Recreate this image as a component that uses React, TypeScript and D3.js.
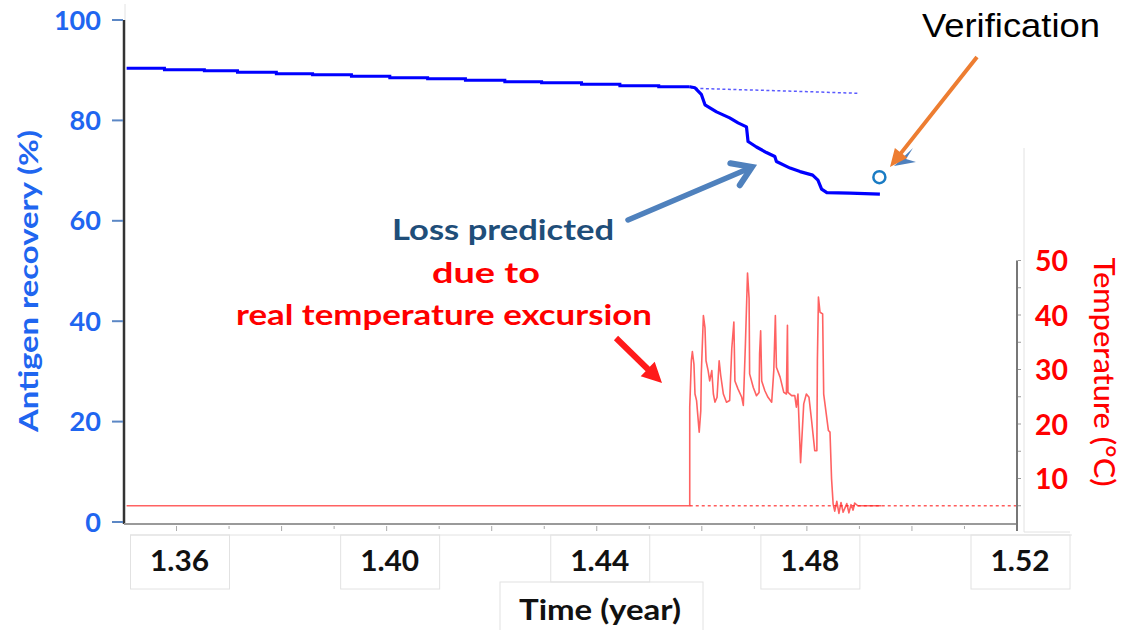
import React from "react";
import * as d3 from "d3";

// Antigen recovery: step-wise plateau (start time of each level, value in %)
const plateauTimes = [1.3505, 1.3577, 1.3653, 1.3716, 1.379, 1.3859, 1.3933, 1.4006, 1.4078, 1.415, 1.4225, 1.4295, 1.4371, 1.4444, 1.4518, 1.4577];
const plateauValues = [90.4, 90.1, 89.9, 89.6, 89.3, 89.1, 88.8, 88.5, 88.3, 88.0, 87.7, 87.5, 87.2, 86.9, 86.7, 86.7];

// Antigen recovery after the excursion starts
const declineTimes = [1.4577, 1.4587, 1.4599, 1.4606, 1.4628, 1.4653, 1.4669, 1.4685, 1.4688, 1.4704, 1.4723, 1.4739, 1.4742, 1.4768, 1.4787, 1.4811, 1.4821, 1.4828, 1.4838, 1.4882, 1.4939];
const declineValues = [86.7, 86.5, 85.2, 83.1, 81.7, 80.5, 79.5, 78.7, 75.8, 74.7, 73.6, 72.8, 71.8, 70.5, 69.8, 69.1, 68.1, 66.3, 65.6, 65.5, 65.3];

// Prediction had the product stayed at 5 °C
const predictedTimes = [1.4577, 1.4583, 1.468, 1.478, 1.4897];
const predictedValues = [86.7, 86.4, 86.1, 85.8, 85.4];

// Verification measurement
const verificationTime = 1.4938;
const verificationValue = 68.7;

// Recorded temperature (°C)
const tempTimes = [
  1.3505, 1.4577, 1.4577, 1.458, 1.4582, 1.4585, 1.4587, 1.459, 1.4595, 1.4598, 1.4599, 1.4603, 1.4606, 1.4608,
  1.4612, 1.4615, 1.4619, 1.4622, 1.4625, 1.4629, 1.4633, 1.4636, 1.4641, 1.4647, 1.4653, 1.4657, 1.4661, 1.4663,
  1.4669, 1.4676, 1.4679, 1.4683, 1.4687, 1.469, 1.4691, 1.4698, 1.4704, 1.4709, 1.471, 1.4712, 1.4714, 1.472,
  1.4726, 1.4733, 1.4737, 1.474, 1.4742, 1.4749, 1.4756, 1.4761, 1.4763, 1.4764, 1.4771, 1.4777, 1.478, 1.4783,
  1.4788, 1.4794, 1.4799, 1.4804, 1.4809, 1.4815, 1.4819, 1.482, 1.4822, 1.4825, 1.483, 1.4832, 1.4841, 1.4844,
  1.4847, 1.485, 1.4853, 1.4857, 1.4861, 1.4865, 1.4869, 1.4876, 1.488, 1.4884, 1.4888, 1.4891, 1.4897, 1.4942,
];
const tempValues = [
  5, 5, 23.1, 31.6, 33.3, 31, 25.5, 24.3, 18.5, 22.4, 29.2, 39.9, 37.7, 31.6,
  29.8, 27.9, 29.8, 25.5, 24, 24.9, 31.6, 28.9, 25.5, 24, 24.3, 33.8, 38.7, 27.9,
  26.4, 24.9, 23.4, 34.7, 47.7, 43, 29.2, 26.7, 25.2, 25.8, 32.9, 37.1, 27.9, 26.1,
  24.9, 24, 29.8, 39.9, 30.4, 28.6, 25.8, 25.5, 38.1, 25.8, 25.2, 25.2, 23.1, 25.5,
  12.9, 23.7, 25.5, 24.9, 20.6, 15.1, 15.1, 31.6, 43.3, 40.5, 40.2, 25.5, 18.8, 18.5,
  9.9, 5.3, 4.0, 5.8, 3.6, 5.6, 3.8, 5.4, 3.7, 5.2, 4.2, 5.5, 5.0, 5.0,
];
const storageTemp = 5;

// Axis ticks
const recoveryTicks = [0, 20, 40, 60, 80, 100];
const tempTicks = [10, 20, 30, 40, 50];
const tempMinorTicks = [5, 10, 15, 20, 25, 30, 35, 40, 45, 50];
const timeLabelTicks = [1.36, 1.4, 1.44, 1.48, 1.52];
const timeMinorTicks = d3.range(1.36, 1.5201, 0.01);

const W = 1124;
const H = 630;
const LABEL_FONT = "Lato, 'Open Sans', sans-serif";
const BLUE = "#1f66f0";
const RED = "#ff0000";

const x = d3.scaleLinear().domain([1.35, 1.52]).range([124, 1017]);
const yRec = d3.scaleLinear().domain([0, 100]).range([522, 20]);
const yTemp = d3.scaleLinear().domain([0, 50]).range([533, 260.5]);

const zip = (ts: number[], vs: number[]) => ts.map((t, i) => [t, vs[i]] as [number, number]);

const recStep = d3.line<[number, number]>().x((d) => x(d[0])).y((d) => yRec(d[1])).curve(d3.curveStepAfter);
const recLine = d3.line<[number, number]>().x((d) => x(d[0])).y((d) => yRec(d[1]));
const tempLine = d3.line<[number, number]>().x((d) => x(d[0])).y((d) => yTemp(d[1]));

// Filled arrow (shaft + triangular head) from (x1,y1) to tip (x2,y2)
function arrowShape(x1: number, y1: number, x2: number, y2: number, shaft: number, headW: number, headL: number) {
  const dx = x2 - x1, dy = y2 - y1;
  const len = Math.hypot(dx, dy);
  const ux = dx / len, uy = dy / len;
  const px = -uy, py = ux;
  const bx = x2 - ux * headL, by = y2 - uy * headL;
  const pts = [
    [x1 + px * shaft / 2, y1 + py * shaft / 2],
    [bx + px * shaft / 2, by + py * shaft / 2],
    [bx + px * headW / 2, by + py * headW / 2],
    [x2, y2],
    [bx - px * headW / 2, by - py * headW / 2],
    [bx - px * shaft / 2, by - py * shaft / 2],
    [x1 - px * shaft / 2, y1 - py * shaft / 2],
  ];
  return pts.map((p) => p.join(",")).join(" ");
}

// Open chevron head for a line arrow
function chevron(x1: number, y1: number, x2: number, y2: number, arm: number, angleDeg: number) {
  const a = Math.atan2(y2 - y1, x2 - x1);
  const r = (angleDeg * Math.PI) / 180;
  const p1 = [x2 - arm * Math.cos(a - r), y2 - arm * Math.sin(a - r)];
  const p2 = [x2 - arm * Math.cos(a + r), y2 - arm * Math.sin(a + r)];
  return `M${p1[0]},${p1[1]}L${x2},${y2}L${p2[0]},${p2[1]}`;
}

const stretch = (len: number) => ({ textLength: len, lengthAdjust: "spacingAndGlyphs" as const });

export default function App() {
  const plateau = zip(plateauTimes, plateauValues);
  const decline = zip(declineTimes, declineValues);
  const predicted = zip(predictedTimes, predictedValues);
  const temps = zip(tempTimes, tempValues);
  const excursionStart = tempTimes[1];
  const axisBottom = 524;
  const cellTop = 535;

  return (
    <svg width={W} height={H} style={{ position: "absolute", left: 0, top: 0, background: "#fff" }}>
      {/* faint cell outlines around the time labels */}
      <g stroke="#e2e2e2" strokeWidth={1} fill="none">
        <line x1={130} x2={1072} y1={cellTop} y2={cellTop} />
        {timeLabelTicks.map((t) => {
          const c = x(t) + 4;
          const bottom = t === 1.44 ? 582 : 589;
          return <rect key={t} x={c - 50} y={cellTop} width={99} height={bottom - cellTop} />;
        })}
        <rect x={500} y={582} width={203} height={60} />
        <line x1={1024} x2={1024} y1={148} y2={532} />
        <line x1={1024} x2={1070} y1={532} y2={532} />
        <line x1={125} x2={125} y1={4} y2={20} />
      </g>

      {/* temperature: baseline reference at storage temperature */}
      <line
        x1={x(excursionStart)} x2={x(1.52)} y1={yTemp(storageTemp)} y2={yTemp(storageTemp)}
        stroke="#ff4040" strokeWidth={1.5} strokeDasharray="3,3" opacity={0.85}
      />
      <path d={tempLine(temps) ?? ""} fill="none" stroke="#ff2020" strokeOpacity={0.7} strokeWidth={1.6} strokeLinejoin="round" />

      {/* antigen recovery */}
      <path d={recLine(predicted) ?? ""} fill="none" stroke="#5a5aff" strokeWidth={1.5} strokeDasharray="3,2.5" />
      <path d={recStep(plateau) ?? ""} fill="none" stroke="#0000ff" strokeWidth={3} />
      <path d={recLine(decline) ?? ""} fill="none" stroke="#0000ff" strokeWidth={3.2} strokeLinejoin="round" />
      <circle cx={x(verificationTime)} cy={yRec(verificationValue)} r={6} fill="none" stroke="#1a7cc4" strokeWidth={2.5} />

      {/* left axis */}
      <line x1={124} x2={124} y1={yRec(100)} y2={axisBottom} stroke="#333" strokeWidth={2.5} />
      {recoveryTicks.map((v) => (
        <g key={v}>
          <line x1={112} x2={123} y1={yRec(v)} y2={yRec(v)} stroke="#5b87c5" strokeWidth={2} />
          <text x={101} y={yRec(v) + 9.5} textAnchor="end" fill={BLUE} fontFamily={LABEL_FONT} fontWeight={700} fontSize={26.5}
            {...stretch(String(v).length * 15.7)}>
            {v}
          </text>
        </g>
      ))}
      <text
        transform={`translate(38,281) rotate(-90)`} textAnchor="middle" fill={BLUE}
        fontFamily={LABEL_FONT} fontWeight={700} fontSize={26} {...stretch(302)}
      >
        Antigen recovery (%)
      </text>

      {/* bottom axis */}
      <line x1={124} x2={1018} y1={axisBottom} y2={axisBottom} stroke="#9a9a9a" strokeWidth={2} />
      {timeMinorTicks.map((t, i) => (
        <line key={i} x1={x(t)} x2={x(t)} y1={axisBottom + 2} y2={axisBottom + (i % 2 === 0 ? 7 : 5)} stroke="#aaa" strokeWidth={1} />
      ))}
      {timeLabelTicks.map((t) => (
        <text key={t} x={x(t) + 3} y={571} textAnchor="middle" fill="#111" fontFamily={LABEL_FONT} fontWeight={700} fontSize={28.5}
          {...stretch(59)}>
          {t.toFixed(2)}
        </text>
      ))}
      <text x={600} y={620} textAnchor="middle" fill="#111" fontFamily={LABEL_FONT} fontWeight={700} fontSize={28} {...stretch(162)}>
        Time (year)
      </text>

      {/* right (temperature) axis */}
      <line x1={1017} x2={1017} y1={yTemp(50)} y2={531} stroke="#777" strokeWidth={2} />
      {tempMinorTicks.map((v) => (
        <line key={v} x1={1018} x2={1021} y1={yTemp(v)} y2={yTemp(v)} stroke="#999" strokeWidth={1} />
      ))}
      {tempTicks.map((v) => (
        <text key={v} x={1035} y={yTemp(v) + 10.5} fill={RED} fontFamily={LABEL_FONT} fontWeight={700} fontSize={29} {...stretch(33)}>
          {v}
        </text>
      ))}
      <text
        transform={`translate(1094,372) rotate(90)`} textAnchor="middle" fill={RED}
        fontFamily={LABEL_FONT} fontWeight={500} fontSize={28} {...stretch(229)}
      >
        Temperature (°C)
      </text>

      {/* annotations */}
      <text x={503} y={240} textAnchor="middle" fill="#1f4e79" fontFamily={LABEL_FONT} fontWeight={700} fontSize={29} {...stretch(222)}>
        Loss predicted
      </text>
      <text x={486} y={283} textAnchor="middle" fill={RED} fontFamily={LABEL_FONT} fontWeight={700} fontSize={29} {...stretch(108)}>
        due to
      </text>
      <text x={444} y={325} textAnchor="middle" fill={RED} fontFamily={LABEL_FONT} fontWeight={700} fontSize={29} {...stretch(416)}>
        real temperature excursion
      </text>

      <line x1={628} y1={220} x2={750} y2={168} stroke="#4f81bd" strokeWidth={5.5} strokeLinecap="round" />
      <path d={chevron(628, 220, 752, 167, 22, 33)} fill="none" stroke="#4f81bd" strokeWidth={6} strokeLinejoin="miter" strokeLinecap="round" />

      <polygon points={arrowShape(616, 338, 662, 383, 6, 20, 20)} fill="#ff1a1a" />

      <polygon points="894,166 913,148 906,159 916,162" fill="#4f81bd" />
      <polygon points={arrowShape(977, 57, 890, 167, 4, 16, 18)} fill="#ed7d31" />
      <text x={1011} y={37} textAnchor="middle" fill="#000" fontFamily="'Liberation Sans', Arial, sans-serif" fontSize={34} {...stretch(178)}>
        Verification
      </text>
    </svg>
  );
}
